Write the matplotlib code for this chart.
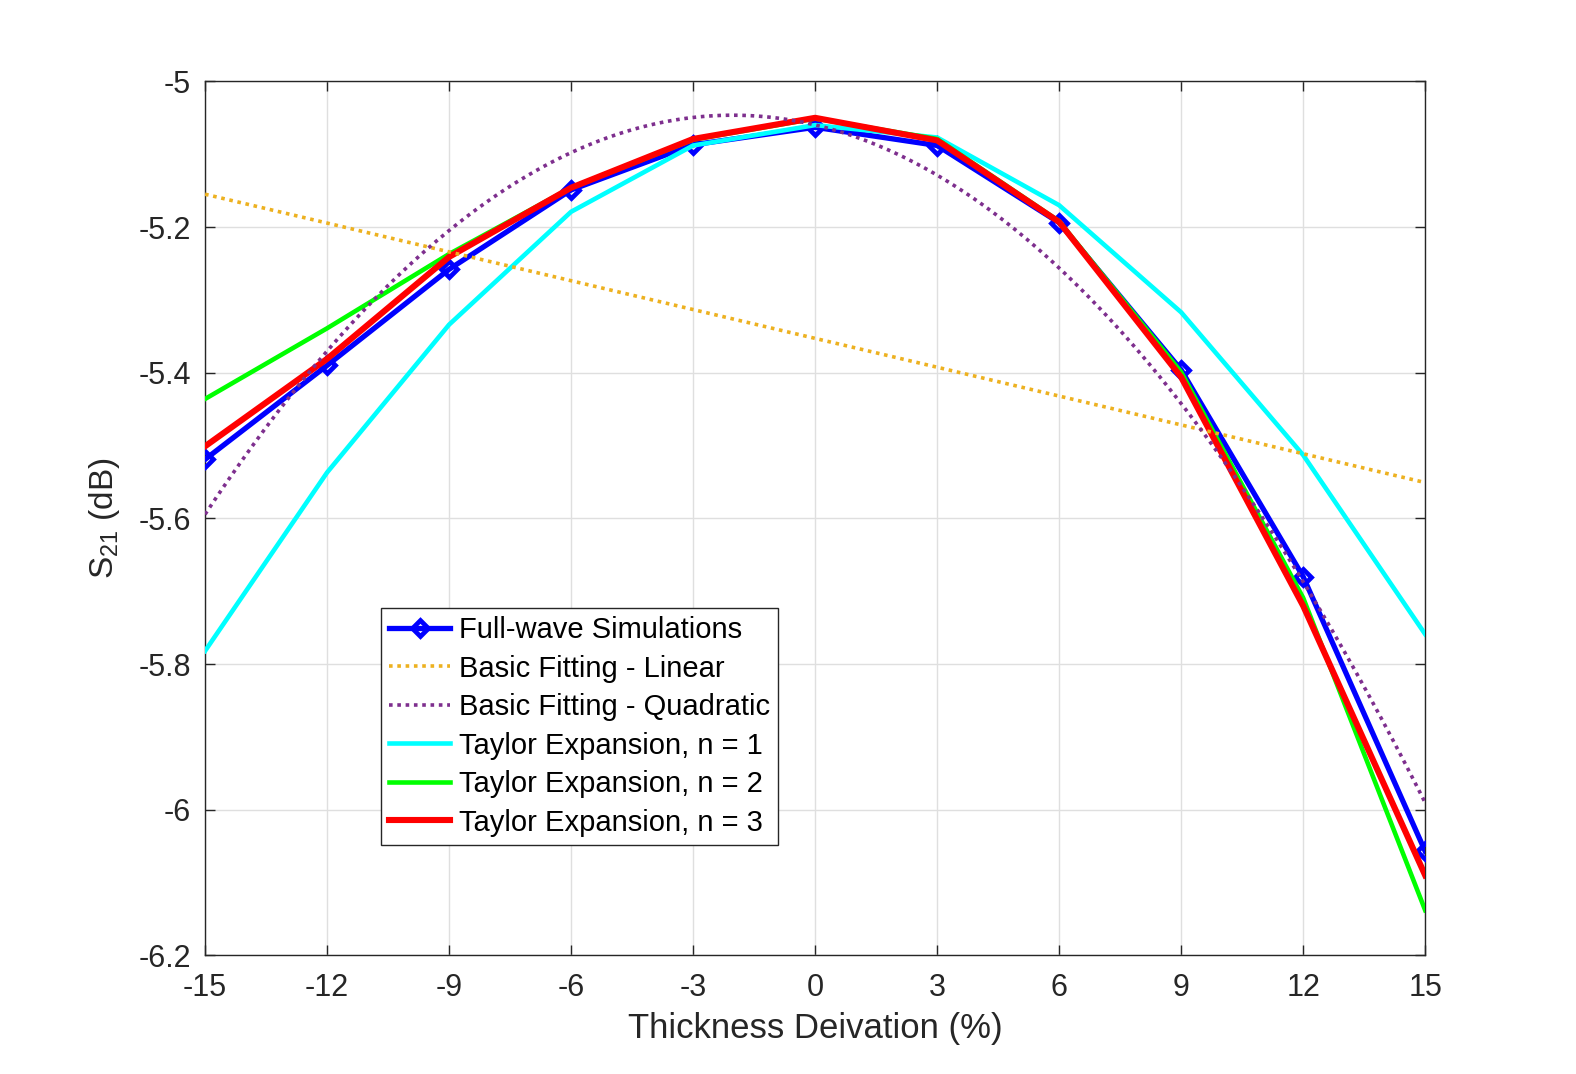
import numpy as np
import matplotlib
matplotlib.use("Agg")
import matplotlib.pyplot as plt

plt.rcParams['font.family'] = ['Liberation Sans', 'DejaVu Sans']
plt.rcParams['mathtext.fontset'] = 'custom'
plt.rcParams['mathtext.rm'] = 'Liberation Sans'
plt.rcParams['mathtext.it'] = 'Liberation Sans'

# Data
deviation = [-15, -12, -9, -6, -3, 0, 3, 6, 9, 12, 15]
full_wave = [-5.519, -5.390, -5.258, -5.149, -5.087, -5.063, -5.088, -5.194, -5.396, -5.680, -6.057]
taylor_n1 = [-5.782, -5.537, -5.334, -5.179, -5.088, -5.060, -5.077, -5.170, -5.317, -5.513, -5.759]
taylor_n2 = [-5.436, -5.339, -5.237, -5.146, -5.080, -5.051, -5.079, -5.192, -5.399, -5.709, -6.138]
taylor_n3 = [-5.501, -5.381, -5.241, -5.146, -5.079, -5.050, -5.081, -5.193, -5.406, -5.720, -6.090]
x_ticks = [-15, -12, -9, -6, -3, 0, 3, 6, 9, 12, 15]
y_ticks = [-6.2, -6.0, -5.8, -5.6, -5.4, -5.2, -5.0]
y_ticklabels = ['-6.2', '-6', '-5.8', '-5.6', '-5.4', '-5.2', '-5']

# Basic fitting (least squares on the full-wave data, as MATLAB Basic Fitting)
xd = np.array(deviation, dtype=float)
yd = np.array(full_wave)
lin_coef = np.polyfit(xd, yd, 1)
quad_coef = np.polyfit(xd, yd, 2)
xf = np.linspace(min(deviation), max(deviation), 301)

fig = plt.figure(figsize=(15.76, 10.74), dpi=100)
ax = fig.add_axes([0.1301, 0.1104, 0.7742, 0.8138])

ax.plot(deviation, full_wave, color='#0000FF', lw=3.8, marker='D', ms=8.5,
        mec='#0000FF', mfc='none', mew=3.4, label='Full-wave Simulations', zorder=3)
ax.plot(xf, np.polyval(lin_coef, xf), color='#EDB120', lw=2.6, ls=(0, (1, 1.3)),
        label='Basic Fitting - Linear', zorder=6)
ax.plot(xf, np.polyval(quad_coef, xf), color='#7E2F8E', lw=2.6, ls=(0, (1, 1.3)),
        label='Basic Fitting - Quadratic', zorder=6)
ax.plot(deviation, taylor_n1, color='#00FFFF', lw=3.3, label='Taylor Expansion, n = 1', zorder=4)
ax.plot(deviation, taylor_n2, color='#00FF00', lw=3.3, label='Taylor Expansion, n = 2', zorder=4)
ax.plot(deviation, taylor_n3, color='#FF0000', lw=4.4, label='Taylor Expansion, n = 3', zorder=5)

ax.set_xlim(-15, 15)
ax.set_ylim(-6.2, -5.0)
ax.set_xticks(x_ticks)
ax.set_xticklabels([str(t) for t in x_ticks])
ax.set_yticks(y_ticks)
ax.set_yticklabels(y_ticklabels)
ax.tick_params(direction='in', top=True, right=True, labelsize=22, length=7,
               width=1, colors='#262626')
ax.tick_params(axis='x', pad=13)
ax.tick_params(axis='y', pad=10)
ax.grid(True, color='#DFDFDF', lw=1)
ax.set_axisbelow(True)
for s in ax.spines.values():
    s.set_color('#262626')
    s.set_linewidth(1)

ax.set_xlabel('Thickness Deivation (%)', fontsize=25, color='#262626', labelpad=6)
ax.set_ylabel('S$_{21}$ (dB)', fontsize=24, color='#262626', labelpad=12)

leg = ax.legend(loc='lower left', bbox_to_anchor=(0.1442, 0.1265), fontsize=21,
                frameon=True, fancybox=False, edgecolor='#262626', framealpha=1,
                borderpad=0.28, labelspacing=0.36, handlelength=2.1, handletextpad=0.3,
                borderaxespad=0)
leg.get_frame().set_linewidth(1)

fig.savefig('out.png', dpi=100)
